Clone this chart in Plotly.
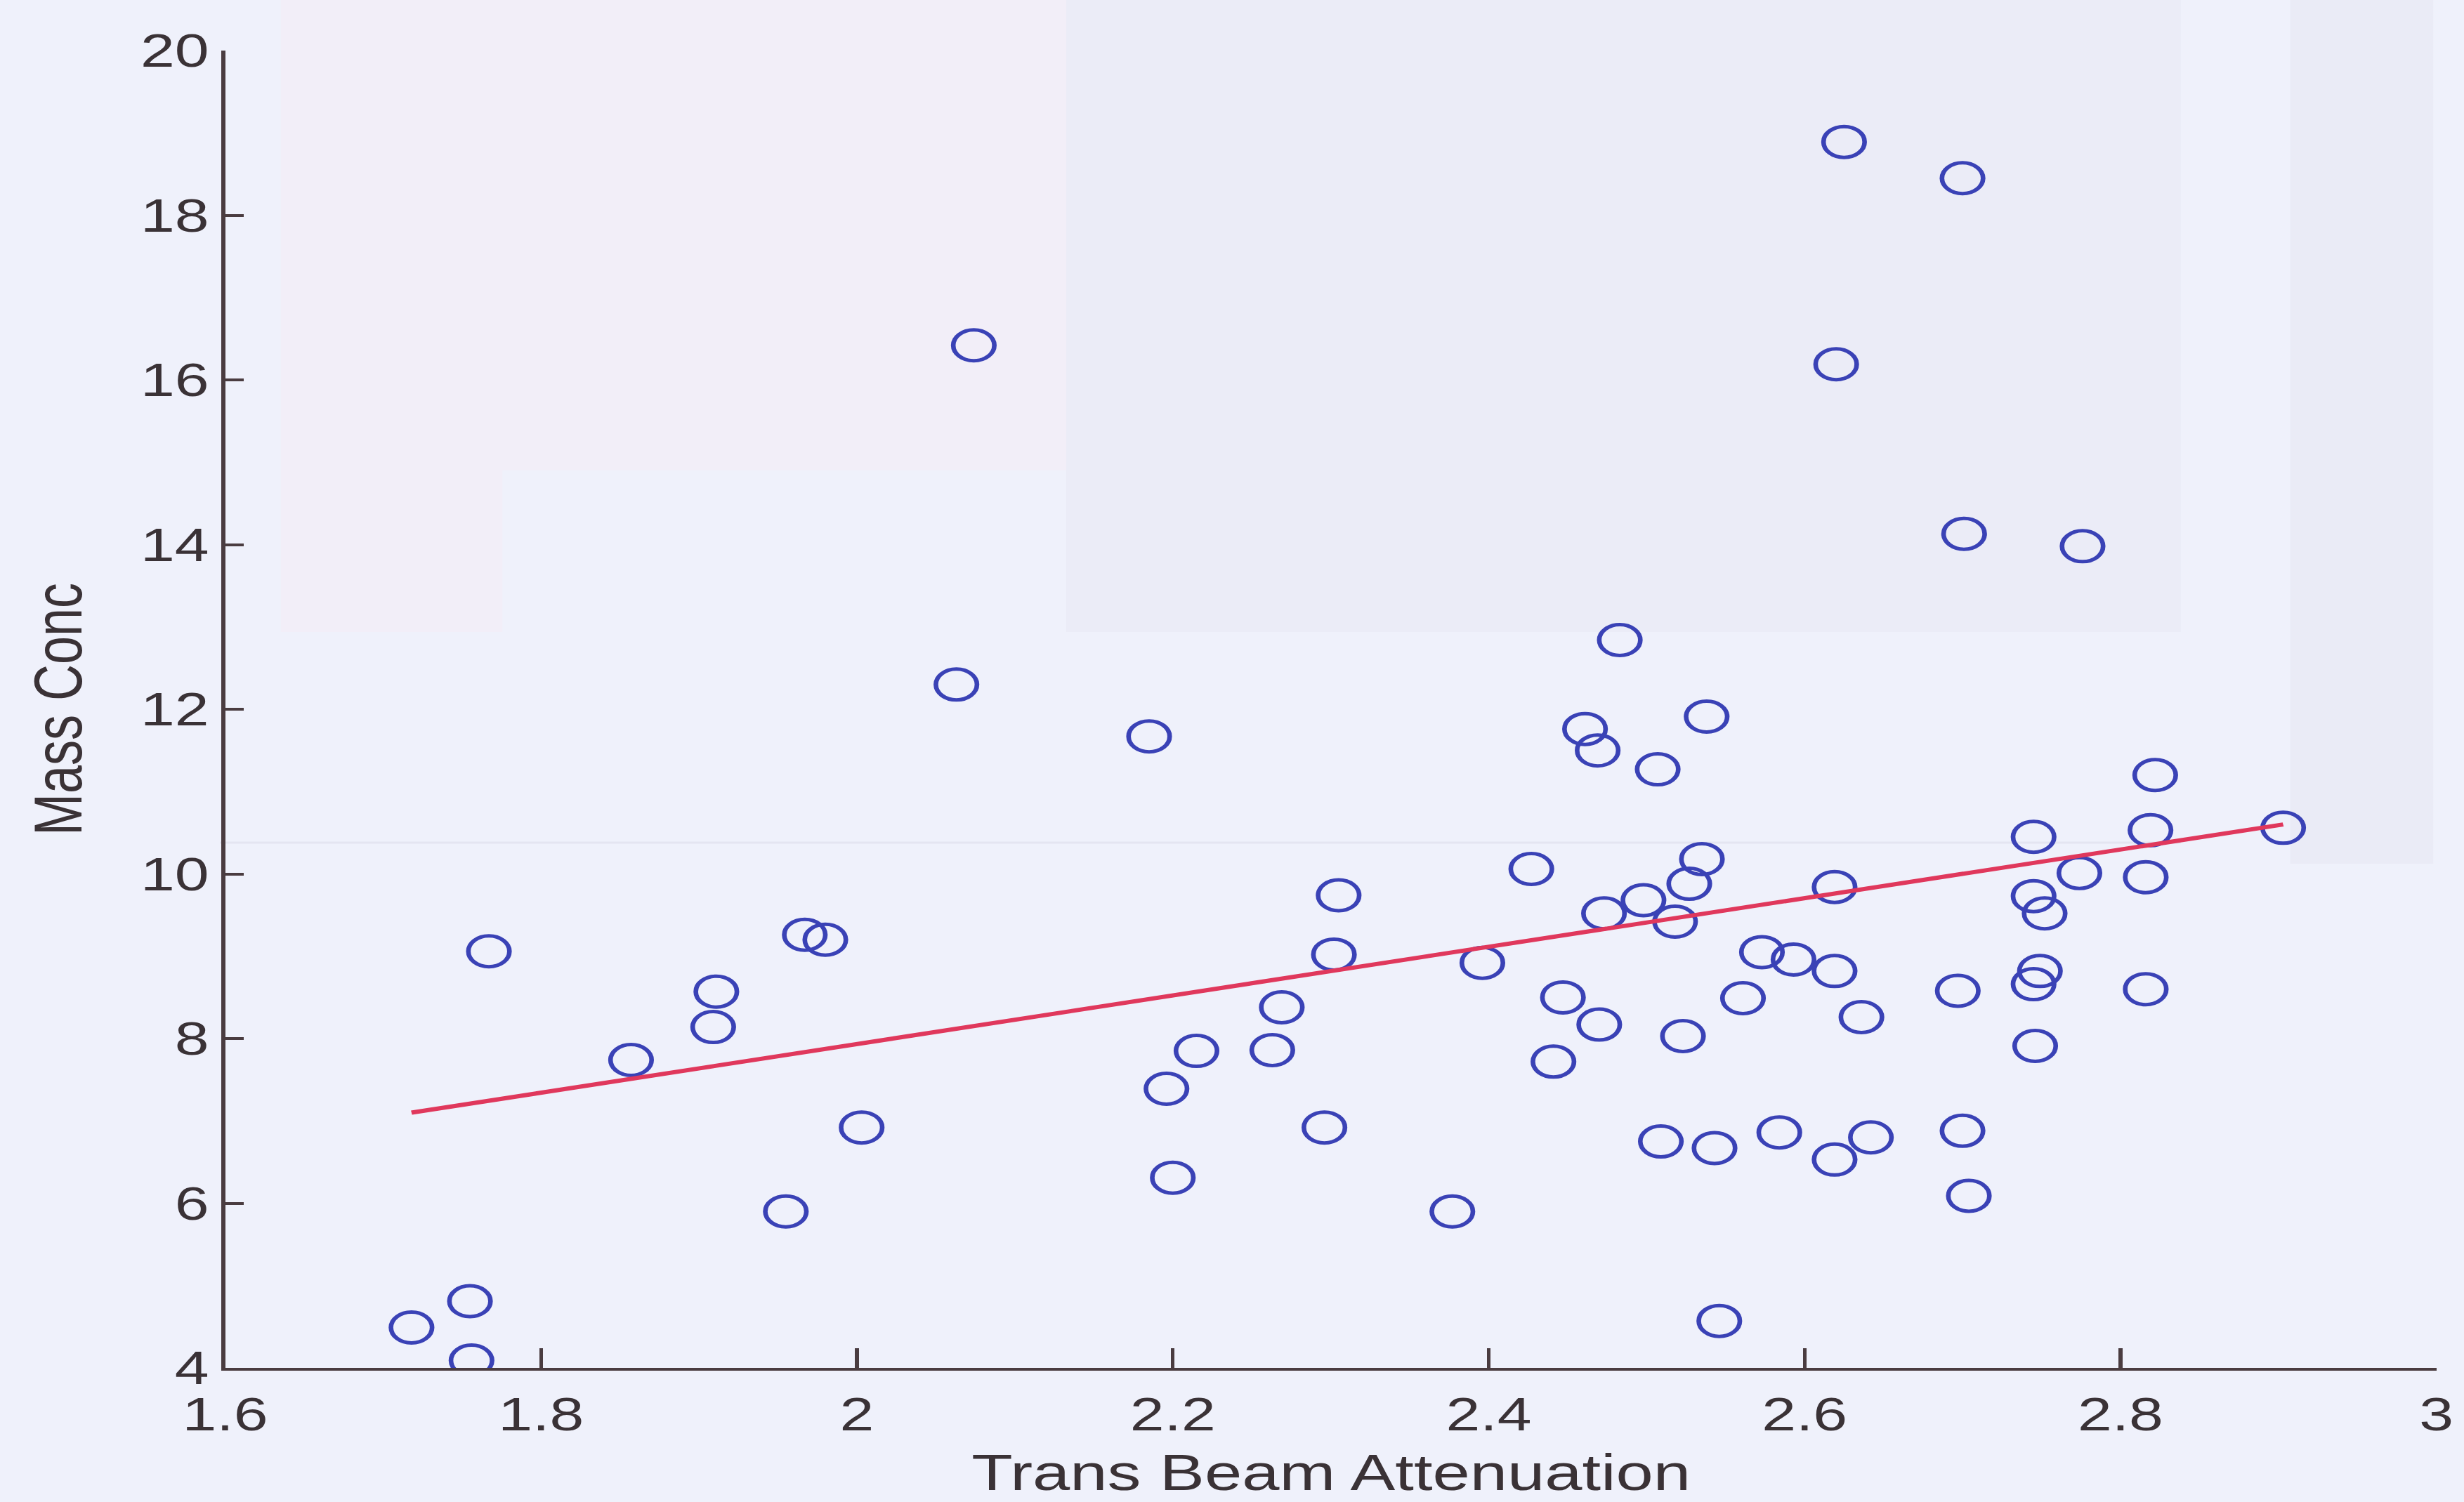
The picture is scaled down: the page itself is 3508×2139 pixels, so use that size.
import plotly.graph_objects as go

# Trans beam attenuation vs mass concentration (one circle per sample)
attenuation = [
    1.718, 1.755, 1.756, 1.767, 1.857, 1.909, 1.911, 1.955, 1.967, 1.980,
    2.003, 2.063, 2.074, 2.185, 2.196, 2.200, 2.215, 2.263, 2.269, 2.296,
    2.302, 2.305, 2.377, 2.396, 2.427, 2.441, 2.447, 2.461, 2.469, 2.470,
    2.473, 2.483, 2.498, 2.507, 2.509, 2.518, 2.523, 2.527, 2.535, 2.538,
    2.543, 2.546, 2.561, 2.573, 2.584, 2.593, 2.619, 2.619, 2.619, 2.620,
    2.625, 2.636, 2.642, 2.697, 2.700, 2.700, 2.701, 2.704, 2.745, 2.745,
    2.749, 2.745, 2.746, 2.752, 2.774, 2.776, 2.816, 2.816, 2.819, 2.822,
    2.903,
]
mass_conc = [
    4.49, 4.81, 4.09, 9.06, 7.74, 8.14, 8.57, 5.90, 9.26, 9.20,
    6.92, 12.30, 16.42, 11.67, 7.39, 6.31, 7.85, 7.86, 8.38, 6.92,
    9.02, 9.74, 5.90, 8.92, 10.06, 7.72, 8.50, 11.76, 11.50, 8.17,
    9.52, 12.84, 9.68, 11.27, 6.75, 9.42, 8.03, 9.88, 10.18, 11.91,
    6.67, 4.57, 8.49, 9.05, 6.86, 8.96, 8.82, 9.84, 6.53, 16.19,
    18.89, 8.26, 6.80, 8.58, 6.88, 18.45, 14.13, 6.09, 10.45, 9.73,
    8.82, 8.66, 7.91, 9.52, 10.01, 13.98, 9.96, 8.60, 10.53, 11.20,
    10.56,
]

# least-squares trend line end points
fit_x = [1.718, 2.903]
fit_y = [7.10, 10.60]

x_ticks = [1.6, 1.8, 2.0, 2.2, 2.4, 2.6, 2.8, 3.0]
x_tick_text = ["1.6", "1.8", "2", "2.2", "2.4", "2.6", "2.8", "3"]
y_ticks = [4, 6, 8, 10, 12, 14, 16, 18, 20]

X_LABEL = "Trans Beam Attenuation"
Y_LABEL = "Mass Conc"

# page is laid out narrower and widened horizontally in the browser
PAGE_W, PAGE_H = 3508, 2139
STRETCH = 1.33
W = PAGE_W / STRETCH
M_L, M_T, M_B = 241, 72, 191
M_R = W - 2612.4

BG = "#eff1fb"
AXIS = "#4a3c40"
TEXT = "#3a3236"
FONT = "Liberation Sans, Arial, sans-serif"


def page_to_paper(px, py):
    """Page pixel position (after widening) -> plot paper fraction."""
    ux = px / STRETCH
    fx = (ux - M_L) / (W - M_L - M_R)
    fy = (PAGE_H - M_B - py) / (PAGE_H - M_T - M_B)
    return fx, fy


# faint paper tints showing through the sheet: (x0, y0, x1, y1, colour)
paper_tints = [
    (400, 0, 1520, 670, "#f2eef8"),
    (400, 670, 716, 900, "#f2eef8"),
    (1520, 0, 3110, 900, "#ebecf7"),
    (3266, 0, 3470, 1230, "#eaebf6"),
]

fig = go.Figure()

for x0, y0, x1, y1, col in paper_tints:
    a0, b0 = page_to_paper(x0, y0)
    a1, b1 = page_to_paper(x1, y1)
    fig.add_shape(type="rect", xref="paper", yref="paper",
                  x0=a0, y0=b0, x1=a1, y1=b1,
                  fillcolor=col, line_width=0, layer="below")

g0 = page_to_paper(313, 1200)
g1 = page_to_paper(3110, 1200)
fig.add_shape(type="line", xref="paper", yref="paper",
              x0=g0[0], y0=g0[1], x1=g1[0], y1=g1[1],
              line=dict(color="#e4e5f1", width=3), layer="below")

fig.add_trace(go.Scatter(
    x=attenuation, y=mass_conc, mode="markers",
    marker=dict(symbol="circle-open", size=44, color="#3a42b6",
                line=dict(width=5, color="#3a42b6")),
    showlegend=False, hoverinfo="x+y",
))

fig.add_trace(go.Scatter(
    x=fit_x, y=fit_y, mode="lines",
    line=dict(color="#e0385c", width=6),
    showlegend=False, hoverinfo="skip",
))

axis_common = dict(
    showline=True, linecolor=AXIS, linewidth=4,
    ticks="inside", tickcolor=AXIS, tickwidth=3.5,
    showgrid=False, zeroline=False, mirror=False,
    tickfont=dict(family=FONT, size=66, color=TEXT),
)

fig.update_xaxes(range=[1.6, 3.0], tickvals=x_ticks, ticktext=x_tick_text,
                 ticklen=28, ticklabelstandoff=6, **axis_common)
fig.update_yaxes(range=[4, 20], tickvals=y_ticks, ticklen=20,
                 **axis_common)

fig.add_annotation(text=X_LABEL, xref="paper", yref="paper", x=0.5, y=0,
                   xanchor="center", yanchor="middle", yshift=-149,
                   showarrow=False,
                   font=dict(family=FONT, size=72, color=TEXT))
fig.add_annotation(text=Y_LABEL, xref="paper", yref="paper", x=0, y=0.5,
                   xanchor="center", yanchor="middle", xshift=-179,
                   textangle=-90, showarrow=False,
                   font=dict(family=FONT, size=72, color=TEXT))

fig.update_layout(
    width=W, height=PAGE_H, autosize=False,
    margin=dict(l=M_L, r=M_R, t=M_T, b=M_B, pad=0),
    paper_bgcolor=BG, plot_bgcolor="rgba(0,0,0,0)",
)

stretch_js = (
    "var gd = document.getElementById('{plot_id}');"
    "gd.style.transformOrigin = '0 0';"
    "gd.style.transform = 'scaleX(" + str(STRETCH) + ")';"
    "document.body.style.margin = '0';"
    "document.body.style.overflow = 'hidden';"
    "document.body.style.background = '" + BG + "';"
)

fig.write_html("out.html", post_script=stretch_js)
